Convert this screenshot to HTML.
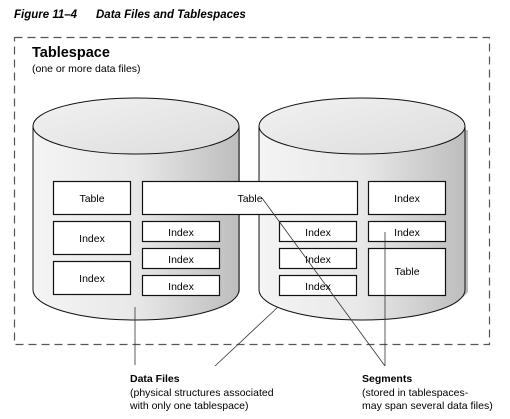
<!DOCTYPE html>
<html><head><style>
html,body{margin:0;padding:0;background:#fff;}
svg{display:block;}
text{font-family:"Liberation Sans",Arial,sans-serif;}
</style></head><body>
<svg width="510" height="419" viewBox="0 0 510 419" xmlns="http://www.w3.org/2000/svg">
<defs>
<linearGradient id="side" x1="0" x2="1" y1="0" y2="0">
<stop offset="0" stop-color="#f4f4f4"/><stop offset="0.5" stop-color="#e8e8e8"/><stop offset="1" stop-color="#bdbdbd"/>
</linearGradient>
<linearGradient id="top" x1="0" x2="1" y1="0" y2="1">
<stop offset="0" stop-color="#f2f2f2"/><stop offset="1" stop-color="#dcdcdc"/>
</linearGradient>
</defs>
<text x="14" y="18" font-size="11.5" font-weight="bold" font-style="italic">Figure 11–4</text>
<text x="96" y="18" font-size="11.5" font-weight="bold" font-style="italic">Data Files and Tablespaces</text>
<rect x="14.5" y="37.5" width="475" height="307" fill="none" stroke="#555" stroke-width="1.2" stroke-dasharray="8,5"/>
<text x="32" y="57" font-size="14.5" font-weight="bold">Tablespace</text>
<text x="32" y="72" font-size="10.5">(one or more data files)</text>

<path d="M36 130 L40 130 L40 292 A103 30 0 0 0 240 292 L240 130 Z" fill="#bbb"/>
<path d="M33 126 L33 290 A103 30 0 0 0 239 290 L239 126 Z" fill="url(#side)" stroke="#111" stroke-width="1"/>
<ellipse cx="136" cy="126" rx="103" ry="28" fill="url(#top)" stroke="#111" stroke-width="1"/>
<path d="M262 130 L266 130 L266 292 A103 30 0 0 0 468 292 L468 130 Z" fill="#bbb"/>
<path d="M259 126 L259 290 A103 30 0 0 0 465 290 L465 126 Z" fill="url(#side)" stroke="#111" stroke-width="1"/>
<ellipse cx="362" cy="126" rx="103" ry="28" fill="url(#top)" stroke="#111" stroke-width="1"/>

<g fill="#fff" stroke="#111" stroke-width="1.2">
<rect x="53.5" y="181.5" width="77" height="33"/>
<rect x="142.5" y="181.5" width="215" height="33"/>
<rect x="368.5" y="181.5" width="77" height="33"/>
<rect x="53.5" y="221.5" width="77" height="33"/>
<rect x="53.5" y="261.5" width="77" height="33"/>
<rect x="142.5" y="221.5" width="77" height="20"/>
<rect x="142.5" y="248.5" width="77" height="20"/>
<rect x="142.5" y="275.5" width="77" height="20"/>
<rect x="279.5" y="221.5" width="77" height="20"/>
<rect x="279.5" y="248.5" width="77" height="20"/>
<rect x="279.5" y="275.5" width="77" height="20"/>
<rect x="368.5" y="221.5" width="77" height="20"/>
<rect x="368.5" y="248.5" width="77" height="47"/>
</g>
<g font-size="10.5" text-anchor="middle">
<text x="92" y="202">Table</text>
<text x="250" y="202">Table</text>
<text x="407" y="202">Index</text>
<text x="92" y="242">Index</text>
<text x="92" y="282">Index</text>
<text x="181" y="236">Index</text>
<text x="181" y="263">Index</text>
<text x="181" y="290">Index</text>
<text x="318" y="236">Index</text>
<text x="318" y="263">Index</text>
<text x="318" y="290">Index</text>
<text x="407" y="236">Index</text>
<text x="407" y="275">Table</text>
</g>
<g stroke="#333" stroke-width="0.8" fill="none">
<line x1="262" y1="198" x2="385" y2="366"/>
<line x1="385" y1="232" x2="385" y2="366"/>
<line x1="135" y1="307" x2="135" y2="365"/>
<line x1="278" y1="307" x2="215" y2="366"/>
</g>
<text x="130" y="382" font-size="10.5" font-weight="bold">Data Files</text>
<text x="130" y="396" font-size="10.5">(physical structures associated</text>
<text x="130" y="409" font-size="10.5">with only one tablespace)</text>
<text x="362" y="382" font-size="10.5" font-weight="bold">Segments</text>
<text x="362" y="396" font-size="10.5">(stored in tablespaces-</text>
<text x="362" y="409" font-size="10.5">may span several data files)</text>
</svg>
</body></html>
